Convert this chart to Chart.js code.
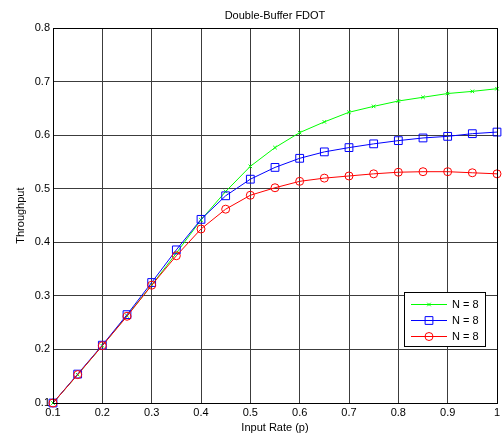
<!DOCTYPE html>
<html>
<head>
<meta charset="utf-8">
<script src="https://cdn.jsdelivr.net/npm/chart.js@4.4.1/dist/chart.umd.min.js"></script>
<style>
  html, body { margin: 0; padding: 0; background: #fff; }
  canvas { display: block; }
</style>
</head>
<body>
<canvas id="c" width="504" height="435"></canvas>
<script>
// Input rate p (x values)
const inputRate = [0.1, 0.15, 0.2, 0.25, 0.3, 0.35, 0.4, 0.45, 0.5, 0.55,
                   0.6, 0.65, 0.7, 0.75, 0.8, 0.85, 0.9, 0.95, 1.0];

// Throughput for each curve
const throughputGreen = [0.100, 0.153, 0.207, 0.263, 0.320, 0.380, 0.442, 0.495, 0.542, 0.577,
                         0.605, 0.625, 0.643, 0.654, 0.664, 0.671, 0.678, 0.682, 0.687];
const throughputBlue  = [0.100, 0.154, 0.208, 0.265, 0.325, 0.386, 0.443, 0.487, 0.518, 0.540,
                         0.557, 0.569, 0.577, 0.584, 0.590, 0.595, 0.598, 0.603, 0.606];
const throughputRed   = [0.100, 0.153, 0.207, 0.262, 0.320, 0.375, 0.425, 0.462, 0.488, 0.502,
                         0.514, 0.520, 0.524, 0.528, 0.531, 0.532, 0.532, 0.530, 0.528];

const seriesLabels = ['N = 8', 'N = 8', 'N = 8'];
const xTicks = [0.1, 0.2, 0.3, 0.4, 0.5, 0.6, 0.7, 0.8, 0.9, 1];
const yTicks = [0.1, 0.2, 0.3, 0.4, 0.5, 0.6, 0.7, 0.8];

const FONT = 'Liberation Sans, Arial, sans-serif';

function toPoints(ys) {
  return inputRate.map((x, i) => ({ x: x, y: ys[i] }));
}

// Black box around the plot area
const frame = {
  id: 'frame',
  afterDatasetsDraw(chart) {
    const a = chart.chartArea, ctx = chart.ctx;
    ctx.save();
    ctx.strokeStyle = '#000';
    ctx.lineWidth = 1;
    ctx.strokeRect(Math.round(a.left) + 0.5, Math.round(a.top) + 0.5,
                   Math.round(a.right - a.left), Math.round(a.bottom - a.top));
    ctx.restore();
  }
};

// Legend box inside the plot, lower right
const boxLegend = {
  id: 'boxLegend',
  afterDraw(chart) {
    const ctx = chart.ctx;
    const x0 = 404, y0 = 292, w = 81, h = 54;
    ctx.save();
    ctx.fillStyle = '#fff';
    ctx.fillRect(x0, y0, w, h);
    ctx.strokeStyle = '#000';
    ctx.lineWidth = 1;
    ctx.strokeRect(x0 + 0.5, y0 + 0.5, w, h);
    ctx.font = '11px ' + FONT;
    ctx.textBaseline = 'middle';
    ctx.textAlign = 'left';
    chart.data.datasets.forEach((ds, i) => {
      const y = y0 + 12 + i * 16;
      ctx.strokeStyle = ds.borderColor;
      ctx.lineWidth = 1;
      ctx.beginPath();
      ctx.moveTo(x0 + 7, y + 0.5);
      ctx.lineTo(x0 + 43, y + 0.5);
      ctx.stroke();
      ctx.fillStyle = 'rgba(0,0,0,0)';
      Chart.helpers.drawPoint(ctx, {
        pointStyle: ds.pointStyle,
        radius: ds.pointRadius,
        rotation: 0,
        borderWidth: ds.pointBorderWidth
      }, x0 + 25, y + 0.5);
      ctx.fillStyle = '#000';
      ctx.fillText(ds.label, x0 + 48, y + 1);
    });
    ctx.restore();
  }
};

const common = {
  fill: false,
  borderWidth: 1,
  pointBorderWidth: 1,
  pointBackgroundColor: 'rgba(0,0,0,0)',
  tension: 0,
  clip: false
};

new Chart(document.getElementById('c'), {
  type: 'line',
  data: {
    datasets: [
      Object.assign({}, common, {
        label: seriesLabels[0], data: toPoints(throughputGreen),
        borderColor: '#00ff00', pointBorderColor: '#00ff00',
        pointStyle: 'crossRot', pointRadius: 2.5, order: 2
      }),
      Object.assign({}, common, {
        label: seriesLabels[1], data: toPoints(throughputBlue),
        borderColor: '#0000ff', pointBorderColor: '#0000ff',
        pointStyle: 'rect', pointRadius: 5.5, order: 1
      }),
      Object.assign({}, common, {
        label: seriesLabels[2], data: toPoints(throughputRed),
        borderColor: '#ff0000', pointBorderColor: '#ff0000',
        pointStyle: 'circle', pointRadius: 4, order: 0
      })
    ]
  },
  options: {
    responsive: false,
    animation: false,
    devicePixelRatio: 1,
    layout: { padding: { left: 0, right: 7, top: 0, bottom: 0 } },
    plugins: {
      legend: { display: false },
      tooltip: { enabled: false },
      title: {
        display: true,
        fullSize: false,
        text: 'Double-Buffer FDOT',
        color: '#000',
        font: { family: FONT, size: 11, weight: 'normal' },
        padding: { top: 9, bottom: 6 }
      }
    },
    scales: {
      x: {
        type: 'linear',
        min: 0.1, max: 1,
        afterBuildTicks(s) { s.ticks = xTicks.map(v => ({ value: v })); },
        afterFit(s) { s.height = 32; },
        ticks: {
          color: '#000', padding: 3, maxRotation: 0,
          font: { family: FONT, size: 11 },
          callback: v => String(v)
        },
        grid: { color: '#3c3c3c', lineWidth: 1, drawTicks: false },
        border: { display: true, color: '#000', width: 1 },
        title: {
          display: true, text: 'Input Rate (p)', color: '#000',
          font: { family: FONT, size: 11 }, padding: { top: 0, bottom: 0 }
        }
      },
      y: {
        type: 'linear',
        min: 0.1, max: 0.8,
        afterBuildTicks(s) { s.ticks = yTicks.map(v => ({ value: v })); },
        afterFit(s) { s.width = 53; },
        ticks: {
          color: '#000', padding: 3,
          font: { family: FONT, size: 11 },
          callback: v => String(v)
        },
        grid: { color: '#3c3c3c', lineWidth: 1, drawTicks: false },
        border: { display: true, color: '#000', width: 1 },
        title: {
          display: true, text: 'Throughput', color: '#000',
          font: { family: FONT, size: 11 }, padding: { top: 14, bottom: 0 }
        }
      }
    }
  },
  plugins: [frame, boxLegend]
});
</script>
</body>
</html>
